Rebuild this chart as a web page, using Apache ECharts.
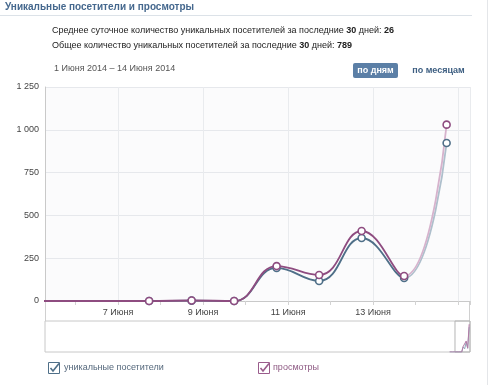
<!DOCTYPE html>
<html><head><meta charset="utf-8">
<script src="https://cdn.jsdelivr.net/npm/echarts@6/dist/echarts.min.js"></script>
<style>html,body{margin:0;padding:0;background:#fff}#c{width:500px;height:385px}</style>
</head><body><div id="c"></div>
<script>
// ---- data ----
const days = [1,2,3,4,5,6,7,8,9,10,11,12,13,14];
const uniques = [0,0,0,0,0,0,0,2,0,193,117,368,134,923];
const views   = [0,0,0,0,0,0,0,3,0,204,152,409,146,1030];
const timeOfDay = 0.73;           // points recorded late in the day
const firstMarkedDay = 7;
const labelDays = [7,9,11,13];
const yTicks = [0,250,500,750,1000,1250];
const windowDays = [5.28, 15.28]; // visible window
const navStart = -268;            // navigator full range start
const title = 'Уникальные посетители и просмотры';
const avgText = ['Среднее суточное количество уникальных посетителей за последние ', '30', ' дней: ', '26'];
const totalText = ['Общее количество уникальных посетителей за последние ', '30', ' дней: ', '789'];
const rangeText = '1 Июня 2014 – 14 Июня 2014';
const legendNames = ['уникальные посетители','просмотры'];

const F = '"Liberation Sans", Arial, sans-serif';
const FS = 9;
const cBlue = '#4f6f88', cBlueL = '#aebfcc';
const cPurp = '#8e4c80', cPurpL = '#d6b2cc';
const shift = 1; // axis unit = day - shift so auto ticks fall on odd days
const X = d => d + timeOfDay - shift;
const lastX = X(days[days.length-2]);

const mk = arr => days.map((d,i)=>[X(d), arr[i]]);
const mkMarks = arr => days.map((d,i)=>[X(d), arr[i]]).filter((p,i)=>days[i]>=firstMarkedDay);
const fmtY = v => v >= 1000 ? String(v).replace(/(\d)(\d{3})$/, '$1 $2') : String(v);

const chart = echarts.init(document.getElementById('c'), null, {renderer:'canvas'});

function richLine(parts){ return '{a|'+parts[0]+'}{b|'+parts[1]+'}{a|'+parts[2]+'}{b|'+parts[3]+'}'; }
const richStyle = {a:{fontFamily:F,fontSize:FS,fill:'#222'}, b:{fontFamily:F,fontSize:FS,fontWeight:'bold',fill:'#222'}};

function checkbox(x,y,color){
  return [
    {type:'rect', shape:{x:x+0.5,y:y+0.5,width:11,height:11}, style:{fill:'#fff',stroke:color,lineWidth:1}},
    {type:'polyline', shape:{points:[[x+2.5,y+6],[x+5,y+9],[x+11,y+1.5]]}, style:{stroke:color,lineWidth:1.6,fill:null}}
  ];
}

const option = {
  animation:false,
  backgroundColor:'#fff',
  textStyle:{fontFamily:F},
  grid:[
    {left:45, top:87, width:425, height:214, show:true, backgroundColor:'#fbfbfc', borderWidth:0},
    {left:45, top:321, width:425, height:31, show:true, backgroundColor:'#fff', borderColor:'#c8c8c8', borderWidth:1}
  ],
  xAxis:[
    {type:'value', gridIndex:0, min:windowDays[0]-shift, max:windowDays[1]-shift, splitNumber:5,
     axisLine:{show:true, lineStyle:{color:'#c9c9c9'}},
     axisTick:{show:true, length:4, lineStyle:{color:'#d3d3d3'}},
     minorTick:{show:true, splitNumber:2, length:4, lineStyle:{color:'#d3d3d3'}},
     splitLine:{show:true, lineStyle:{color:'#e9ebee'}},
     axisLabel:{margin:7, color:'#444', fontSize:FS, fontFamily:F,
       formatter:v=>{const d=Math.round(v+shift); return (Math.abs(v+shift-d)<1e-6 && labelDays.includes(d))? d+' Июня':'';}}},
    {type:'value', gridIndex:1, min:navStart, max:windowDays[1], show:false}
  ],
  yAxis:[
    {type:'value', gridIndex:0, min:yTicks[0], max:yTicks[yTicks.length-1], interval:250,
     axisLine:{show:true, lineStyle:{color:'#c9c9c9'}}, axisTick:{show:false},
     splitLine:{lineStyle:{color:'#e6e8ec'}},
     axisLabel:{margin:6, color:'#444', fontSize:FS, fontFamily:F, formatter:fmtY}},
    {type:'value', gridIndex:1, min:0, max:1150, show:false}
  ],
  series:[
    {id:'u', type:'line', data:mk(uniques), smooth:0.45, symbol:'none', lineStyle:{width:1.8, color:cBlue}, z:2},
    {id:'v', type:'line', data:mk(views), smooth:0.45, symbol:'none', lineStyle:{width:1.8, color:cPurp}, z:3},
    {type:'scatter', data:mkMarks(uniques), symbol:'circle', symbolSize:7,
     itemStyle:{color:'#fff', borderColor:cBlue, borderWidth:1.6, opacity:1}, z:4},
    {type:'scatter', data:mkMarks(views), symbol:'circle', symbolSize:7,
     itemStyle:{color:'#fff', borderColor:cPurp, borderWidth:1.6, opacity:1}, z:5},
    {type:'line', xAxisIndex:1, yAxisIndex:1, data:days.map((d,i)=>[d+timeOfDay, uniques[i]]), symbol:'none',
     lineStyle:{width:1, color:'#8fa6ba'}},
    {type:'line', xAxisIndex:1, yAxisIndex:1, data:days.map((d,i)=>[d+timeOfDay, views[i]]), symbol:'none',
     lineStyle:{width:1, color:'#b47ba6'}},
    {type:'line', xAxisIndex:1, yAxisIndex:1, data:[], symbol:'none',
     markArea:{silent:true, itemStyle:{color:'rgba(0,0,0,0)', borderColor:'#b5b5b5', borderWidth:1},
       data:[[{xAxis:windowDays[0], yAxis:0},{xAxis:windowDays[1], yAxis:1150}]]}}
  ],
  graphic:[
    {type:'text', left:5, top:2, style:{text:title, fontFamily:F, fontSize:10, fontWeight:'bold', fill:'#45688e'}},
    {type:'line', shape:{x1:0,y1:15.5,x2:472,y2:15.5}, style:{stroke:'#dce2e8',lineWidth:1}},
    {type:'line', shape:{x1:487.5,y1:0,x2:487.5,y2:385}, style:{stroke:'#e4e6e9',lineWidth:1}},
    {type:'text', left:52, top:26, style:{text:richLine(avgText), rich:richStyle}},
    {type:'text', left:52, top:41, style:{text:richLine(totalText), rich:richStyle}},
    {type:'text', left:54, top:64, style:{text:rangeText, fontFamily:F, fontSize:FS, fill:'#555'}},
    {type:'rect', shape:{x:353,y:63,width:45,height:15,r:2}, style:{fill:'#5b7fa6'}},
    {type:'text', x:375.5, y:70.5, style:{text:'по дням', align:'center', verticalAlign:'middle', fontFamily:F, fontSize:FS, fontWeight:'bold', fill:'#fff'}},
    {type:'text', x:438.5, y:70.5, style:{text:'по месяцам', align:'center', verticalAlign:'middle', fontFamily:F, fontSize:FS, fontWeight:'bold', fill:'#3e5f82'}},
    {type:'rect', shape:{x:45.5,y:301.5,width:424,height:20}, style:{fill:null, stroke:'#d0d0d0', lineWidth:1}, z:-1},
    ...checkbox(48,362,cBlue),
    {type:'text', left:64, top:363, style:{text:legendNames[0], fontFamily:F, fontSize:FS, fill:'#55687c'}},
    ...checkbox(258,362,'#9a5c8c'),
    {type:'text', left:273, top:363, style:{text:legendNames[1], fontFamily:F, fontSize:FS, fill:'#8e5a83'}}
  ]
};
chart.setOption(option);

// fade the final (incomplete-day) segment, positioned via the axis scale
const p0 = chart.convertToPixel({xAxisIndex:0}, windowDays[0]-shift);
const p1 = chart.convertToPixel({xAxisIndex:0}, windowDays[1]-shift);
const pb = chart.convertToPixel({xAxisIndex:0}, lastX);
const f = (pb - p0) / (p1 - p0);
const grad = (dark, light) => ({type:'linear', x:p0, y:0, x2:p1, y2:0, global:true,
  colorStops:[{offset:0,color:dark},{offset:f,color:dark},{offset:f,color:light},{offset:1,color:light}]});
chart.setOption({series:[
  {id:'u', lineStyle:{color:grad(cBlue,cBlueL)}},
  {id:'v', lineStyle:{color:grad(cPurp,cPurpL)}}
]});
</script></body></html>
